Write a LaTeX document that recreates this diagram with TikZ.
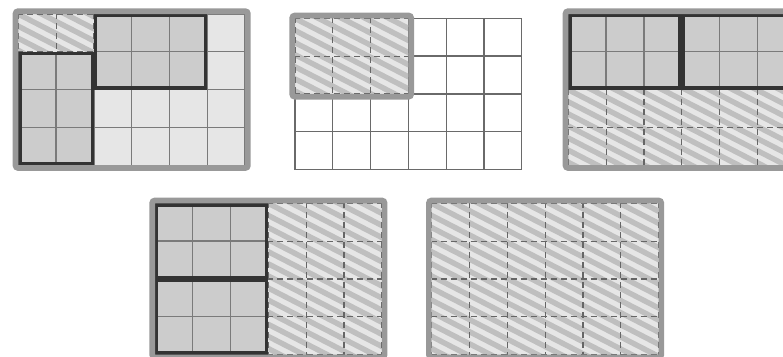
\documentclass[tikz,border=0pt]{standalone}
\definecolor{bordc}{HTML}{999999}
\definecolor{darkc}{HTML}{333333}
\definecolor{cellg}{HTML}{CCCCCC}
\definecolor{celll}{HTML}{E6E6E6}
\definecolor{hbg}{HTML}{E6E6E6}
\definecolor{hstr}{HTML}{BFBFBF}
\definecolor{gridc}{HTML}{7A7A7A}
\definecolor{gridw}{HTML}{6A6A6A}
\definecolor{dashc}{HTML}{666666}
\tikzset{
 gridline/.style={line width=1.3pt},
 dashline/.style={draw=dashc, line width=1.2pt, dash pattern=on 6pt off 4pt, dash phase=1pt},
 boldbox/.style={draw=darkc, line width=3.4pt},
 outerbox/.style={draw=bordc, line width=5.6pt, rounded corners=2.5pt},
 stripe/.style={draw=hstr, line width=5.4pt},
 cellunits/.style={x=37.8pt,y=-37.8pt}
}
\newcommand\hatchreg[4]{%
 \fill[hbg] (#1,#2) rectangle (#3,#4);
 \begin{scope}
 \clip (#1,#2) rectangle (#3,#4);
 \foreach \k in {-12,...,15}{\draw[stripe] ({#1-0.2},{#2+\k*0.32-0.1}) -- ++(7,3.6);}
 \end{scope}
 \foreach \c in {#1,...,#3}{\draw[dashline] (\c,#2) -- (\c,#4);}
 \foreach \r in {#2,...,#4}{\draw[dashline] (#1,\r) -- (#3,\r);}
}
\newcommand\gridlinesc[5]{%
 \foreach \c in {#2,...,#4}{\draw[gridline,draw=#1] (\c,#3) -- (\c,#5);}
 \foreach \r in {#3,...,#5}{\draw[gridline,draw=#1] (#2,\r) -- (#4,\r);}
}
\newcommand\boldrect[4]{\draw[boldbox] ([xshift=1.7pt,yshift=-1.7pt]#1,#2) rectangle ([xshift=-1.7pt,yshift=1.7pt]#3,#4);}
\newcommand\outerrect[4]{\draw[outerbox] ([xshift=-2.8pt,yshift=2.8pt]#1,#2) rectangle ([xshift=2.8pt,yshift=-2.8pt]#3,#4);}
\begin{document}
\begin{tikzpicture}[x=1pt,y=-1pt]
\useasboundingbox (0,0) rectangle (783,356);
\clip (0,0) rectangle (783,356);
\fill[white] (0,0) rectangle (783,356);
% Diagram 1
\begin{scope}[shift={(18.3,14)},cellunits]
 \fill[celll] (0,0) rectangle (6,4);
 \fill[cellg] (2,0) rectangle (5,2);
 \fill[cellg] (0,1) rectangle (2,4);
 \gridlinesc{gridc}{0}{0}{6}{4}
 \hatchreg{0}{0}{2}{1}
 \boldrect{2}{0}{5}{2}
 \boldrect{0}{1}{2}{4}
 \outerrect{0}{0}{6}{4}
\end{scope}
% Diagram 2
\begin{scope}[shift={(295,18.3)},cellunits]
 \fill[white] (0,0) rectangle (6,4);
 \gridlinesc{gridw}{0}{0}{6}{4}
 \hatchreg{0}{0}{3}{2}
 \outerrect{0}{0}{3}{2}
\end{scope}
% Diagram 3
\begin{scope}[shift={(568.3,14)},cellunits]
 \fill[cellg] (0,0) rectangle (6,2);
 \gridlinesc{gridc}{0}{0}{6}{2}
 \hatchreg{0}{2}{6}{4}
 \boldrect{0}{0}{3}{2}
 \boldrect{3}{0}{6}{2}
 \outerrect{0}{0}{6}{4}
\end{scope}
% Diagram 4
\begin{scope}[shift={(155,203.3)},cellunits]
 \fill[cellg] (0,0) rectangle (3,4);
 \gridlinesc{gridc}{0}{0}{3}{4}
 \hatchreg{3}{0}{6}{4}
 \boldrect{0}{0}{3}{2}
 \boldrect{0}{2}{3}{4}
 \outerrect{0}{0}{6}{4}
\end{scope}
% Diagram 5
\begin{scope}[shift={(431.7,203.3)},cellunits]
 \hatchreg{0}{0}{6}{4}
 \outerrect{0}{0}{6}{4}
\end{scope}
\end{tikzpicture}
\end{document}
